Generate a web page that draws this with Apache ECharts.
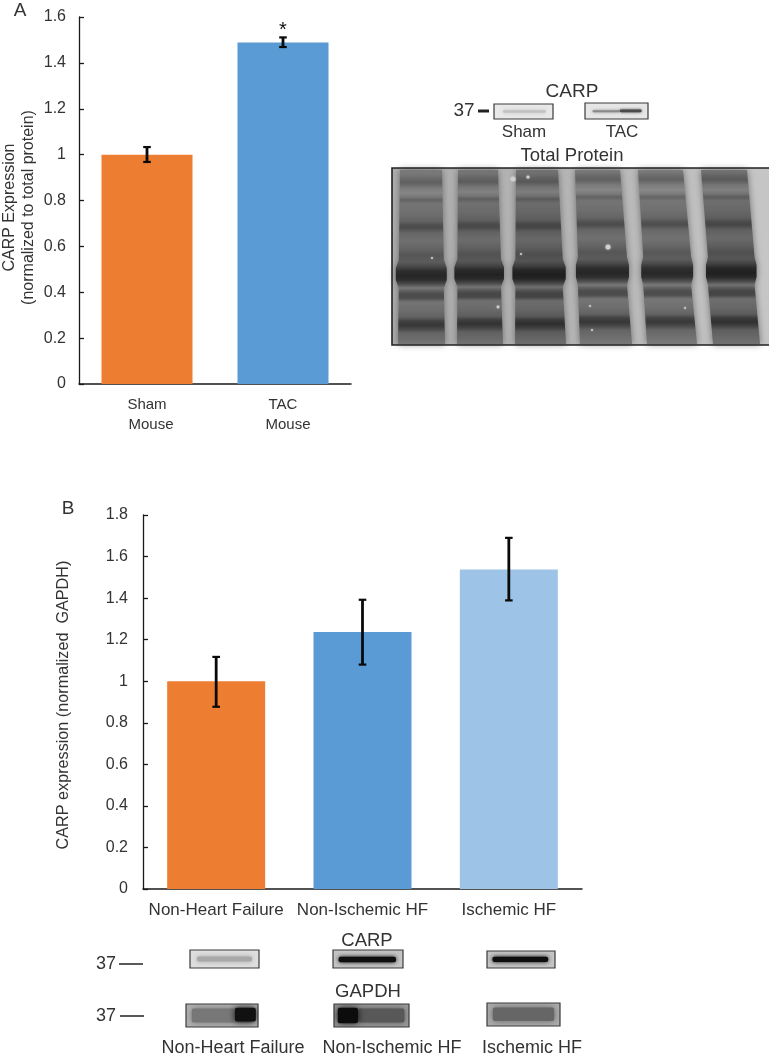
<!DOCTYPE html>
<html><head><meta charset="utf-8">
<style>html,body{margin:0;padding:0;background:#fff}#c{width:769px;height:1060px}</style>
<script src="https://cdn.jsdelivr.net/npm/echarts@6/dist/echarts.min.js"></script>
</head><body><div id="c"></div>
<script>
// Panel A data
const mouseCategories = ['Sham', 'TAC'];
const mouseValues = [1.0, 1.489];
const mouseErrLow = [0.968, 1.469];
const mouseErrHigh = [1.033, 1.511];
const mouseMarks = ['', '*'];
const mouseTicks = [0, 0.2, 0.4, 0.6, 0.8, 1, 1.2, 1.4, 1.6];
// Panel B data
const humanCategories = ['Non-Heart Failure', 'Non-Ischemic HF', 'Ischemic HF'];
const humanValues = [1.0, 1.237, 1.538];
const humanErrLow = [0.877, 1.08, 1.389];
const humanErrHigh = [1.117, 1.392, 1.69];
const humanTicks = [0, 0.2, 0.4, 0.6, 0.8, 1, 1.2, 1.4, 1.6, 1.8];

const FONT = '"Liberation Sans", Arial, sans-serif';
const TXT = '#333';
const mouseColors = ['#ED7D31', '#5B9BD5'];
const humanColors = ['#ED7D31', '#5B9BD5', '#9DC3E6'];

const chart = echarts.init(document.getElementById('c'), null, {renderer: 'canvas'});

function errItem(params, api) {
  const i = api.value(0);
  const x = api.coord([i, 0])[0];
  const lo = api.coord([i, api.value(1)])[1];
  const hi = api.coord([i, api.value(2)])[1];
  const cap = 3.8;
  const st = {stroke: '#0a0a0a', lineWidth: 2.8, fill: null};
  const kids = [
    {type: 'line', shape: {x1: x, y1: lo, x2: x, y2: hi}, style: st},
    {type: 'line', shape: {x1: x - cap, y1: lo, x2: x + cap, y2: lo}, style: Object.assign({}, st, {lineWidth: 2.2})},
    {type: 'line', shape: {x1: x - cap, y1: hi, x2: x + cap, y2: hi}, style: Object.assign({}, st, {lineWidth: 2.2})}
  ];
  const mark = params.seriesIndex === 1 ? mouseMarks[i] : '';
  if (mark) kids.push({type: 'text', style: {text: mark, x: x, y: hi + 3, align: 'center', verticalAlign: 'bottom', font: '20px ' + FONT, fill: '#111'}});
  return {type: 'group', children: kids};
}

function yAxis(idx, max, margin, name, gap, ticks, padding, size) {
  return {
    type: 'value', gridIndex: idx, min: 0, max: max, interval: 0.2,
    name: name, nameLocation: 'middle', nameGap: gap, nameRotate: 90,
    nameTextStyle: {color: TXT, fontFamily: FONT, fontSize: size, lineHeight: 19, padding: padding},
    axisLine: {show: true, onZero: false, lineStyle: {color: '#1a1a1a', width: 1.3}},
    axisTick: {show: true, inside: true, length: 5, lineStyle: {color: '#1a1a1a', width: 1.3}},
    axisLabel: {color: TXT, fontFamily: FONT, fontSize: 16, margin: margin, formatter: v => ticks.includes(+v.toFixed(1)) ? String(+v.toFixed(1)) : ''},
    splitLine: {show: false}
  };
}
function xAxis(idx, cats, margin, size) {
  return {
    type: 'category', gridIndex: idx, data: cats,
    axisLine: {show: true, lineStyle: {color: '#1a1a1a', width: 1.5}},
    axisTick: {show: false},
    axisLabel: {color: TXT, fontFamily: FONT, fontSize: size, margin: margin, interval: 0},
    splitLine: {show: false}
  };
}

// ---- decorative blot pictures, drawn as graphic elements ----
const bandProfile = [[168,118],[175,114],[179,100],[183,92],[188,118],[193,130],[197,116],[200,94],[204,112],[214,106],[221,96],[225,76],[228,72],[233,98],[241,108],[249,96],[255,82],[262,88],[267,66],[271,42],[276,34],[280,42],[284,72],[288,116],[291,90],[294,72],[298,72],[302,112],[310,106],[317,94],[321,62],[325,50],[329,68],[333,96],[340,106],[345,114]];
const blotLanes = [
  {t:[400,442], b:[398,445], bulge:3, dy:0, g:4},
  {t:[458,498], b:[457,503], bulge:3, dy:-1, g:0},
  {t:[516,558], b:[515,566], bulge:3, dy:-1, g:-4},
  {t:[575,620], b:[580,632], bulge:2, dy:-3, g:4},
  {t:[638,683], b:[647,697], bulge:2, dy:-3, g:6},
  {t:[701,747], b:[713,760], bulge:2, dy:-3, g:-2}
];
const blotSpots = [[608,247,2.5],[513,179,2.5],[528,177,1.6],[498,307,1.4],[521,254,1],[590,306,1],[592,330,1],[685,308,1],[432,258,1]];
function gray(v){v=Math.max(0,Math.min(255,Math.round(v)));return 'rgb('+v+','+v+','+v+')';}

function laneEl(l) {
  const top = 170, bot = 344;
  const stops = bandProfile.map(p => ({offset: Math.max(0, Math.min(1, (p[0] + l.dy - top) / (bot - top))), color: gray(p[1] + l.g)}));
  stops.sort((a, b) => a.offset - b.offset);
  const my = 274 + l.dy, f = (my - top) / (bot - top);
  const lm = l.t[0] + (l.b[0] - l.t[0]) * f, rm = l.t[1] + (l.b[1] - l.t[1]) * f;
  const k = l.bulge;
  return {
    type: 'polygon',
    shape: {points: [[l.t[0],top],[l.t[1],top],[rm,my-14],[rm+k,my-6],[rm+k,my+6],[rm,my+14],[l.b[1],bot],[l.b[0],bot],[lm,my+14],[lm-k,my+6],[lm-k,my-6],[lm,my-14]]},
    style: {fill: new echarts.graphic.LinearGradient(0, 0, 0, 1, stops), shadowBlur: 7, shadowColor: 'rgba(95,95,95,0.85)'}
  };
}
function txt(s, x, y, size, opt) {
  return Object.assign({type: 'text', style: {text: s, x: x, y: y, align: 'center', verticalAlign: 'middle', font: size + 'px ' + FONT, fill: TXT}}, opt || {});
}
function box(x, y, w, h, bg, bands) {
  const els = [{type: 'rect', shape: {x: x, y: y, width: w, height: h}, style: {fill: bg}}];
  bands.forEach(b => els.push({type: 'rect', shape: {x: x + b[0] * w, y: y + b[1] * h, width: (b[2]-b[0]) * w, height: (b[3]-b[1]) * h, r: 2}, style: {fill: b[4], shadowBlur: b[5], shadowColor: b[4]}}));
  els.push({type: 'rect', shape: {x: x - 4, y: y - 4, width: w + 8, height: h + 8}, style: {fill: null, stroke: '#fff', lineWidth: 7}});
  els.push({type: 'rect', shape: {x: x, y: y, width: w, height: h}, style: {fill: null, stroke: '#3a3a3a', lineWidth: 1.2}});
  return els;
}
function hline(x1, x2, y, w) {
  return {type: 'line', shape: {x1: x1, y1: y, x2: x2, y2: y}, style: {stroke: '#222', lineWidth: w}};
}

const graphicEls = [
  txt('A', 20, 11, 19), txt('B', 68, 509, 19),
  txt('Mouse', 151, 425, 15), txt('Mouse', 288, 425, 15),
  // blot, panel A
  {type: 'rect', shape: {x: 392, y: 168, width: 378, height: 177}, style: {fill: new echarts.graphic.LinearGradient(1, 0, 0, 0, [{offset: 0, color: '#c6c6c6'}, {offset: 0.5, color: '#b6b6b6'}, {offset: 1, color: '#adadad'}])}},
  ...blotLanes.map(laneEl),
  ...blotSpots.map(s => ({type: 'circle', shape: {cx: s[0], cy: s[1], r: s[2]}, style: {fill: '#d0d0d0', shadowBlur: 2, shadowColor: '#bbb'}})),
  {type: 'rect', shape: {x: 392, y: 168, width: 378, height: 177}, style: {fill: null, stroke: '#222', lineWidth: 1.6}},
  ...box(494, 104, 59, 15, '#e9e9e9', [[0.15,0.42,0.88,0.58,'#c0c0c0',4]]),
  ...box(585, 103, 63, 16, '#e6e6e6', [[0.12,0.45,0.55,0.58,'#8a8a8a',3],[0.55,0.4,0.9,0.58,'#4a4a4a',3]]),
  txt('CARP', 572, 92, 19), txt('37', 464, 111, 19),
  hline(478, 489, 111, 3),
  txt('Sham', 524, 132, 17), txt('TAC', 622, 132, 17),
  txt('Total Protein', 572, 156, 18.5),
  // blots, panel B
  ...box(190, 950, 69, 18, '#dedede', [[0.1,0.36,0.9,0.64,'#a8a8a8',5]]),
  ...box(333, 950, 70, 18, '#c4c4c4', [[0.08,0.38,0.9,0.68,'#0e0e0e',4]]),
  ...box(487, 951, 68, 17, '#c4c4c4', [[0.08,0.34,0.9,0.64,'#0e0e0e',4]]),
  ...box(186, 1004, 72, 23, '#b0b0b0', [[0.08,0.2,0.92,0.8,'#777',6],[0.68,0.16,0.97,0.76,'#111',6]]),
  ...box(334, 1004, 75, 23, '#9a9a9a', [[0.32,0.2,0.94,0.8,'#585858',6],[0.05,0.16,0.32,0.84,'#0c0c0c',7]]),
  ...box(487, 1003, 73, 23, '#ababab', [[0.08,0.2,0.92,0.78,'#666',6]]),
  txt('CARP', 367, 941, 18.5), txt('GAPDH', 368, 992, 18.5),
  txt('37', 106, 964, 18), hline(119, 143, 964, 1.5),
  txt('37', 106, 1016, 18), hline(120, 144, 1016, 1.5),
  txt('Non-Heart Failure', 233, 1048, 18), txt('Non-Ischemic HF', 392, 1048, 18), txt('Ischemic HF', 532, 1048, 18)
];

chart.setOption({
  animation: false,
  backgroundColor: '#fff',
  grid: [
    {left: 79, top: 17, width: 272, height: 367, containLabel: false, outerBoundsMode: 'none'},
    {left: 143, top: 515, width: 439, height: 374, containLabel: false, outerBoundsMode: 'none'}
  ],
  xAxis: [xAxis(0, mouseCategories, 13, 15), xAxis(1, humanCategories, 13, 17)],
  yAxis: [
    yAxis(0, 1.6, 13, 'CARP Expression\n(normalized to total protein)', 41, mouseTicks, [0, 14, 0, 0], 16),
    yAxis(1, 1.8, 15, 'CARP expression (normalized  GAPDH)', 70, humanTicks, [0, 6, 0, 0], 16.2)
  ],
  series: [
    {type: 'bar', xAxisIndex: 0, yAxisIndex: 0, barWidth: 91, data: mouseValues.map((v, i) => ({value: v, itemStyle: {color: mouseColors[i]}}))},
    {type: 'custom', xAxisIndex: 0, yAxisIndex: 0, renderItem: errItem, clip: false, z: 5, encode: {x: 0, y: [1, 2]}, data: mouseValues.map((v, i) => [i, mouseErrLow[i], mouseErrHigh[i]])},
    {type: 'bar', xAxisIndex: 1, yAxisIndex: 1, barWidth: 98, data: humanValues.map((v, i) => ({value: v, itemStyle: {color: humanColors[i]}}))},
    {type: 'custom', xAxisIndex: 1, yAxisIndex: 1, renderItem: errItem, clip: false, z: 5, encode: {x: 0, y: [1, 2]}, data: humanValues.map((v, i) => [i, humanErrLow[i], humanErrHigh[i]])}
  ],
  graphic: {elements: graphicEls}
});
</script></body></html>
